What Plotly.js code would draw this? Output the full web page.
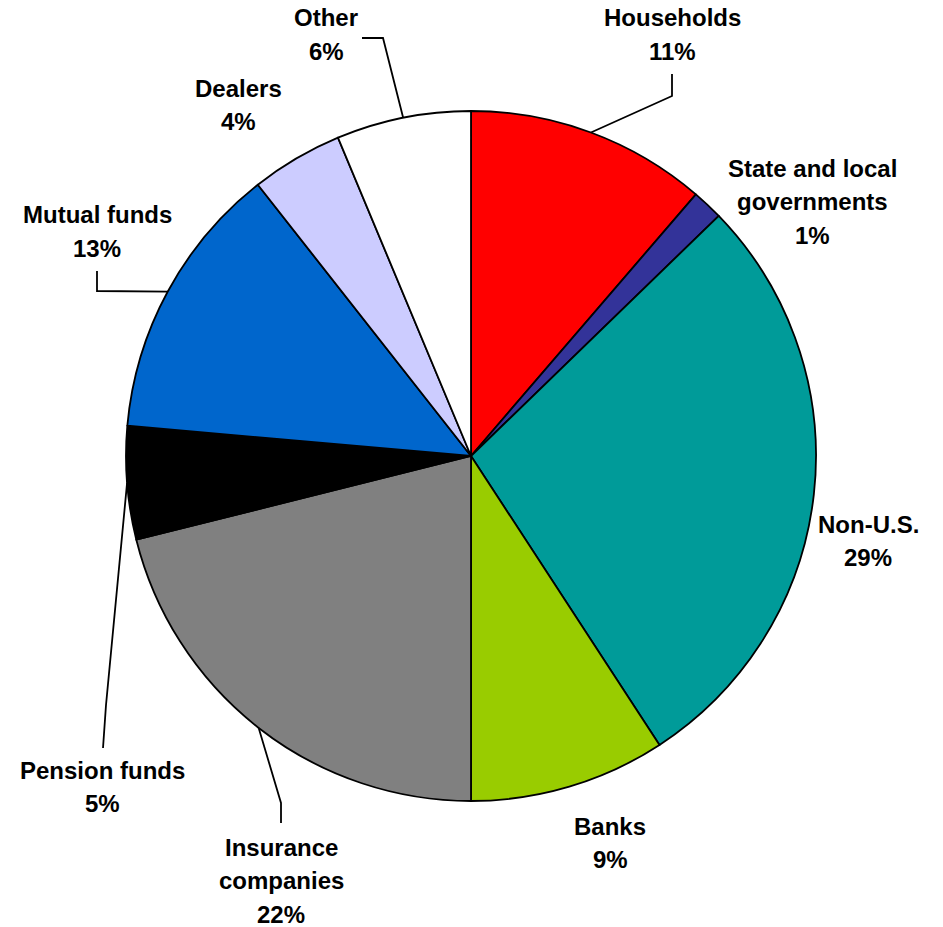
<!DOCTYPE html>
<html>
<head>
<meta charset="utf-8">
<script src="https://cdn.plot.ly/plotly-3.0.1.min.js"></script>
<style>html,body{margin:0;padding:0;background:#fff;}#chart{width:943px;height:927px;}</style>
</head>
<body>
<div id="chart"></div>
<script>
// ---- data ----
const categories = ['Households', 'State and local governments', 'Non-U.S.', 'Banks',
  'Insurance companies', 'Pension funds', 'Mutual funds', 'Dealers', 'Other'];
const shareValues = [11.3, 1.45, 28.05, 9.2, 21.1, 5.3, 13.0, 4.3, 6.3];
const percentLabels = ['11%', '1%', '29%', '9%', '22%', '5%', '13%', '4%', '6%'];
const displayNames = ['Households', 'State and local<br>governments', 'Non-U.S.', 'Banks',
  'Insurance<br>companies', 'Pension funds', 'Mutual funds', 'Dealers', 'Other'];
const sliceColors = ['#FF0000', '#333399', '#009B99', '#99CC00', '#808080', '#000000',
  '#0066CC', '#CCCCFF', '#FFFFFF'];

// ---- layout (pixel geometry) ----
const W = 943, H = 927;
const cx = 471, cy = 456, R = 345;
const px = x => x / W;
const py = y => 1 - y / H;
const lineGap = 33.5;

// label anchor: center x, center y of first line
const labelPos = [[672, 18], [812, 168], [868, 524], [610, 826], [281, 847],
  [102, 770], [97, 215], [238, 88], [326, 18]];
// leader-line bends (after the rim point), null = no leader
const leaderBends = [
  [[672, 96], [672, 74]],
  null, null, null,
  [[281, 803], [281, 823]],
  [[106, 705], [103, 748]],
  [[97, 291], [97, 271]],
  null,
  [[383, 38], [362, 38]]
];

const total = shareValues.reduce((a, b) => a + b, 0);
let cum = 0;
const midFrac = shareValues.map(v => { const m = (cum + v / 2) / total; cum += v; return m; });

const annotations = [];
const shapes = [];
categories.forEach((c, i) => {
  const lines = displayNames[i].split('<br>').concat([percentLabels[i]]);
  lines.forEach((t, k) => {
    annotations.push({
      text: t, showarrow: false, xref: 'paper', yref: 'paper',
      x: px(labelPos[i][0]), y: py(labelPos[i][1] + k * lineGap),
      xanchor: 'center', yanchor: 'middle',
      font: {family: 'Liberation Sans, Arial, sans-serif', size: 24, color: '#000', weight: 'bold'}
    });
  });
  if (leaderBends[i]) {
    const th = midFrac[i] * 2 * Math.PI;
    const rim = [cx + R * Math.sin(th), cy - R * Math.cos(th)];
    const pts = [rim].concat(leaderBends[i]);
    const d = pts.map((p, k) => (k === 0 ? 'M' : 'L') + px(p[0]).toFixed(5) + ',' + py(p[1]).toFixed(5)).join(' ');
    shapes.push({type: 'path', xref: 'paper', yref: 'paper', path: d,
      line: {color: '#000', width: 1.8}});
  }
});

const trace = {
  type: 'pie',
  labels: categories,
  values: shareValues,
  sort: false,
  direction: 'clockwise',
  rotation: 0,
  textinfo: 'none',
  hoverinfo: 'none',
  showlegend: false,
  marker: {colors: sliceColors, line: {color: '#000', width: 1.8}},
  domain: {x: [px(cx - R), px(cx + R)], y: [py(cy + R), py(cy - R)]}
};

const layout = {
  width: W, height: H,
  margin: {l: 0, r: 0, t: 0, b: 0},
  paper_bgcolor: '#fff',
  showlegend: false,
  annotations: annotations,
  shapes: shapes
};

Plotly.newPlot('chart', [trace], layout, {displayModeBar: false, staticPlot: true});
</script>
</body>
</html>
